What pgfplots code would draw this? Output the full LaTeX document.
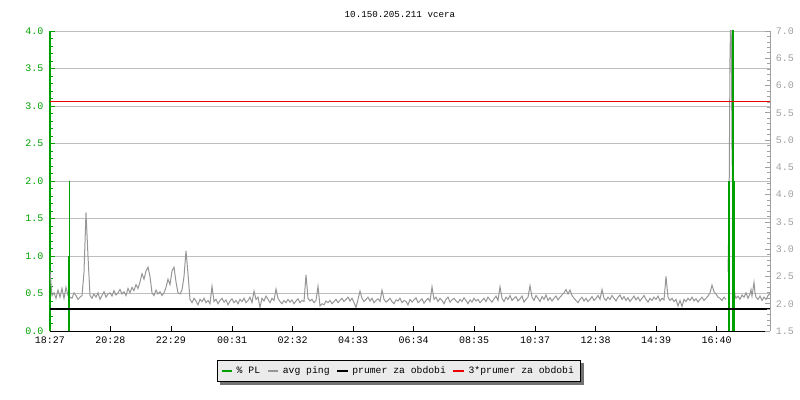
\documentclass[border=0pt]{standalone}
\usepackage{fontspec}
\setmainfont{Liberation Mono}
\usepackage{pgfplots}
\pgfplotsset{compat=1.18}
\usepackage{pgfplotstable}
\pgfdeclarelayer{shadowlayer}
\pgfsetlayers{shadowlayer,main}
\definecolor{plgreen}{RGB}{0,160,0}
\definecolor{pinggray}{RGB}{150,150,150}
\definecolor{gridgray}{RGB}{190,190,190}
\definecolor{axgray}{RGB}{160,160,160}
\definecolor{legfill}{RGB}{235,235,235}
\definecolor{avgred}{RGB}{235,0,0}

% avg ping, one value every 4 minutes from 18:27 (right axis units)
\pgfplotstableread{v
2.6
2.15
2.2
2.1
2.25
2.12
2.28
2.1
2.3
2.15
2.12
2.1
2.2
2.15
2.08
2.12
2.15
2.58
3.67
2.87
2.15
2.1
2.18
2.12
2.2
2.08
2.15
2.22
2.12
2.18
2.2
2.14
2.24
2.16
2.2
2.26
2.18
2.22
2.15
2.28
2.2
2.3
2.24
2.35
2.28
2.4
2.55
2.45
2.6
2.67
2.5
2.2
2.15
2.25
2.18
2.22
2.15
2.2
2.3
2.45
2.35
2.6
2.67
2.4
2.2
2.18
2.25
2.5
2.97
2.55
2.08
2.02
2.1
2.05
1.98
2.08
2.04
2.1
2.02
2.06
2.0
2.32
2.04
2.08
2.0
2.06
2.1
2.03
2.07
1.98
2.05
2.09
2.02
2.06
2.0
2.08
2.04
2.1
2.02
2.06
2.12
2.02
2.23
2.08
2.12
1.93
2.1
2.05
2.14
2.08
2.02
2.1
2.06
2.27
2.1
2.04
2.0
2.06
2.02
2.08
2.03
2.07
2.0
2.05
2.09
2.02
2.06
2.04
2.53
2.1
2.05
2.08
2.02
2.06
2.32
1.96
2.0
1.98
2.05
2.02
2.06
2.0
2.04
2.08
2.02
2.06
2.1
2.04
2.08
2.12
2.05
2.1
2.02
1.93
2.08
2.23
2.1
2.04
2.08
2.12
2.05
2.1
2.02
2.06
2.09
2.04
2.25
2.08
2.03
2.06
2.1
2.04
2.0
2.07
2.05
2.1
2.02
2.06
2.04
1.98
2.08
2.03
2.07
2.11
2.02
2.05
2.09
2.01
2.06
2.1
2.04
2.31
2.08
2.12
2.04
2.1
2.06
2.0
2.08
2.12
2.03
2.07
2.1
2.05
2.02
2.08
2.04
2.11
2.06
2.0
2.07
2.03
2.1
2.05
2.08
2.02
2.06
2.1
2.04
2.12
2.07
2.03
2.09
2.14
2.06
2.31
2.1
2.04
2.12
2.08
2.15
2.06
2.1
2.13
2.05
2.09
2.14
2.03
2.08
2.12
2.33
2.12
2.06
2.15
2.1
2.04
2.13
2.08
2.16
2.06
2.11
2.05
2.1
2.14
2.07
2.12
2.16
2.2
2.26
2.18
2.25
2.15
2.1
2.06
2.02
2.08
2.12
2.05
2.1
2.04
2.08
2.13
2.06
2.1
2.15
2.08
2.26
2.1
2.06
2.12
2.08
2.15
2.1
2.05
2.12
2.16
2.08
2.13
2.06
2.11
2.04
2.09
2.14
2.07
2.12
2.05
2.1
2.15
2.08
2.03
2.1
2.06
2.12
2.08
2.14
2.05
2.1
2.07
2.5
2.12
2.06
2.1
2.04
2.08
1.96
2.06
1.95
2.08
2.04
2.1
2.06
2.12
2.05
2.09
2.03
2.08
2.12
2.06
2.1
2.14
2.2
2.34
2.22
2.18
2.12
2.1
2.06
2.12
2.08
}\pingA

% avg ping near the end (minute, value)
\pgfplotstableread{x v
1356 2.58
1358 3.6
1360 6.53
1362 7.6
1364 4.82
1366 3.63
1368 2.3
1370 2.15
1372 2.1
1376 2.14
1380 2.08
1384 2.16
1388 2.12
1392 2.2
1396 2.1
1400 2.18
1402 2.26
1404 2.14
1408 2.39
1410 2.2
1412 2.12
1416 2.08
1420 2.14
1424 2.06
1428 2.12
1432 2.08
1436 2.15
1440 2.18
}\pingB

\begin{document}
\begin{tikzpicture}
\useasboundingbox (-50bp,-69bp) rectangle (750bp,331bp);
\begin{axis}[
  scale only axis, width=720bp, height=300bp,
  at={(0bp,0bp)}, anchor=south west,
  xmin=0, xmax=1440, ymin=0, ymax=4,
  axis x line*=bottom, axis y line*=left,
  x axis line style={black, line width=1bp},
  y axis line style={plgreen, line width=1.2bp},
  xtick={0,121,242,364,485,606,727,848,970,1091,1212,1333},
  xticklabels={18:27,20:28,22:29,00:31,02:32,04:33,06:34,08:35,10:37,12:38,14:39,16:40},
  xtick style={black, line width=0.8bp},
  ytick={0,0.5,...,4},
  minor y tick num=4,
  ytick style={plgreen, line width=0.8bp},
  minor y tick style={plgreen, line width=0.8bp},
  major tick length=5bp, minor tick length=3.5bp,
  tick align=inside,
  ymajorgrids=true,
  grid style={gridgray, line width=0.8bp},
  /pgf/number format/assume math mode=true,
  ticklabel style={font=\fontsize{10bp}{12bp}\selectfont},
  yticklabel style={plgreen, inner sep=0bp, xshift=-6.5bp,
    /pgf/number format/.cd, fixed, fixed zerofill, precision=1},
  xticklabel style={black, inner sep=0bp, yshift=-6bp},
  title={10.150.205.211 vcera},
  title style={at={(0.486,1.036)}, anchor=center, inner sep=0bp,
    font=\fontsize{9.2bp}{11bp}\selectfont},
  legend columns=-1,
  legend image code/.code={\draw[#1] (0bp,0bp) -- (10.7bp,0bp);},
  legend style={name=leg, at={(0.4847,-0.1333)}, anchor=center,
    draw=black, line width=0.8bp, fill=legfill,
    font=\fontsize{9.75bp}{11bp}\selectfont,
    inner xsep=3bp, inner ysep=4.5bp,
    nodes={inner xsep=3.5bp, inner ysep=2bp},
    /tikz/every even column/.append style={column sep=3bp}},
]
\addlegendimage{plgreen, line width=2bp}
\addlegendentry{\% PL}
\addlegendimage{pinggray, line width=2bp}
\addlegendentry{avg ping}
\addlegendimage{black, line width=2bp}
\addlegendentry{prumer za obdobi}
\addlegendimage{avgred, line width=2bp}
\addlegendentry{3*prumer za obdobi}

% avg ping (right axis units, mapped onto left scale)
\addplot[pinggray, line width=1bp, sharp plot, forget plot]
  table[x index=0, y index=0, x expr=\coordindex*4, y expr=(\thisrow{v}-1.5)/1.375] {\pingA};
\addplot[pinggray, line width=1bp, sharp plot, forget plot]
  table[x=x, y expr=(\thisrow{v}-1.5)/1.375] {\pingB};

% % PL (left axis)
\addplot[plgreen, ycomb, line width=1.5bp, forget plot] coordinates {(39,2.0) (1366.4,4.5)};
\addplot[plgreen, ycomb, line width=2.3bp, forget plot] coordinates {(37.8,1.0) (1358.4,2.0) (1367.6,2.0)};

% prumer za obdobi and 3*prumer (right axis units)
\addplot[black, line width=2.2bp, forget plot, y filter/.expression={(y-1.5)/1.375}]
  coordinates {(0,1.9) (1440,1.9)};
\addplot[avgred, line width=1.1bp, forget plot, y filter/.expression={(y-1.5)/1.375}]
  coordinates {(0,5.7) (1440,5.7)};
\end{axis}

\begin{axis}[
  scale only axis, width=720bp, height=300bp,
  at={(0bp,0bp)}, anchor=south west,
  xmin=0, xmax=1440, ymin=1.5, ymax=7,
  axis x line=none, axis y line*=right,
  y axis line style={axgray, line width=1bp},
  ytick={1.5,2,...,7},
  minor y tick num=4,
  ytick style={axgray, line width=0.8bp},
  minor y tick style={axgray, line width=0.8bp},
  major tick length=5bp, minor tick length=3.5bp,
  tick align=inside,
  /pgf/number format/assume math mode=true,
  yticklabel style={axgray, inner sep=0bp, xshift=5.7bp,
    font=\fontsize{10bp}{12bp}\selectfont,
    /pgf/number format/.cd, fixed, fixed zerofill, precision=1},
]
\end{axis}
\begin{pgfonlayer}{shadowlayer}
\fill[black!55] ([xshift=3bp,yshift=-3bp]leg.south west) rectangle ([xshift=3bp,yshift=-3bp]leg.north east);
\end{pgfonlayer}
\end{tikzpicture}
\end{document}
